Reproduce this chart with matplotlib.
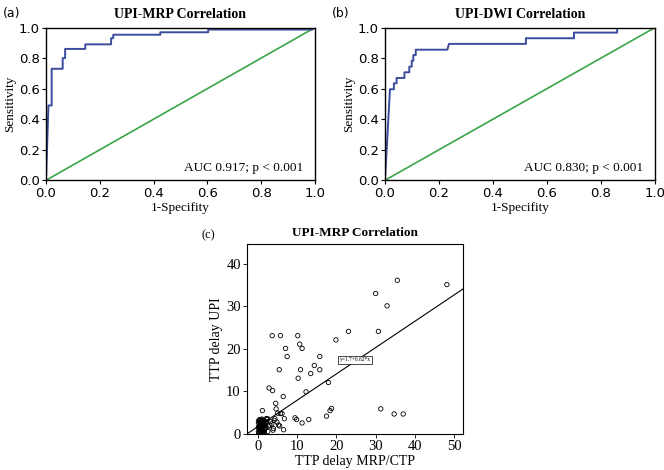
import numpy as np
import matplotlib
matplotlib.use("Agg")
import matplotlib.pyplot as plt

# ROC curves (1-specificity, sensitivity)
roc_a_fpr = [0.0, 0.009, 0.021, 0.021, 0.062, 0.062, 0.071, 0.071, 0.146, 0.146,
             0.242, 0.242, 0.25, 0.25, 0.425, 0.425, 0.603, 0.603, 0.99, 1.0]
roc_a_tpr = [0.0, 0.49, 0.49, 0.73, 0.73, 0.80, 0.80, 0.86, 0.86, 0.89,
             0.89, 0.93, 0.93, 0.953, 0.953, 0.969, 0.969, 0.987, 0.987, 1.0]

roc_b_fpr = [0.0, 0.0185, 0.033, 0.033, 0.043, 0.043, 0.072, 0.072, 0.09, 0.09,
             0.099, 0.099, 0.105, 0.105, 0.114, 0.114, 0.231, 0.237, 0.522, 0.522,
             0.70, 0.70, 0.86, 0.86, 1.0]
roc_b_tpr = [0.0, 0.596, 0.596, 0.635, 0.635, 0.67, 0.67, 0.707, 0.707, 0.744,
             0.744, 0.783, 0.783, 0.82, 0.82, 0.855, 0.855, 0.893, 0.893, 0.93,
             0.93, 0.967, 0.967, 1.0, 1.0]

auc_a = "AUC 0.917; p < 0.001"
auc_b = "AUC 0.830; p < 0.001"

# TTP delay scatter (MRP/CTP vs UPI)
ttp_mrp = [35.5, 48.1, 30.0, 32.9, 23.1, 30.7, 19.9, 3.7, 5.8, 10.2,
           10.7, 7.1, 11.3, 7.5, 15.8, 14.4, 5.5, 10.9, 15.8, 13.5,
           10.3, 18.0, 2.9, 3.8, 12.3, 6.5, 4.6, 4.7, 1.2, 18.8,
           18.4, 17.5, 31.3, 34.7, 37.0, 13.0, 11.3, 9.5, 9.9, 6.8,
           6.2, 5.8, 6.6, 5.3, 4.0, 5.1, 2.4, 3.3, 2.1, 3.1,
           4.4, 3.6, 2.7, 4.9, 5.6, 2.2, 1.9, 3.9, 4.2, 2.6,
           0.3, 0.5, 0.7, 0.9, 1.1, 1.3, 1.5, 1.7, 0.4, 0.6,
           0.8, 1.0, 1.2, 1.4, 1.6, 1.8, 2.0, 0.3, 0.5, 0.7,
           0.9, 1.1, 1.3, 1.5, 1.7, 1.9, 0.4, 0.6, 0.8, 1.0,
           1.2, 1.4, 1.6, 0.3, 0.5, 0.7, 0.9, 1.1, 1.3, 1.5,
           0.4, 0.6, 0.8, 1.0, 1.2, 2.3, 2.5, 0.2, 0.2, 0.2]
ttp_upi = [36.1, 35.1, 33.0, 30.1, 24.1, 24.1, 22.1, 23.1, 23.1, 23.1,
           21.1, 20.1, 20.1, 18.2, 18.2, 16.1, 15.1, 15.1, 15.1, 14.2,
           13.1, 12.1, 10.8, 10.2, 9.9, 8.8, 7.2, 5.9, 5.5, 6.0,
           5.5, 4.2, 5.9, 4.7, 4.7, 3.4, 2.6, 3.8, 3.4, 3.6,
           4.8, 4.8, 1.0, 2.1, 1.3, 4.9, 3.4, 2.9, 1.5, 2.1,
           3.6, 2.4, 1.8, 2.8, 1.9, 3.6, 2.6, 0.9, 3.2, 0.6,
           0.2, 0.4, 0.3, 0.5, 0.2, 0.4, 0.3, 0.5, 1.0, 1.2,
           0.9, 1.1, 1.3, 0.8, 1.0, 1.2, 1.4, 1.8, 2.0, 1.7,
           1.9, 2.1, 1.6, 1.8, 2.0, 2.2, 2.6, 2.8, 2.5, 2.7,
           2.9, 2.4, 2.6, 3.2, 3.4, 3.1, 3.3, 3.5, 3.0, 3.2,
           1.4, 1.5, 2.3, 2.4, 0.7, 2.9, 3.6, 0.6, 1.6, 2.7]
fit_intercept = 1.7
fit_slope = 0.62

blue = "#3c4c9c"
green = "#3aa547"
serif = "Liberation Serif"
sans = "DejaVu Sans"

fig = plt.figure(figsize=(6.64, 4.70), dpi=100)


def roc_panel(rect, fpr, tpr, title, auc_txt, tag, tag_x):
    ax = fig.add_axes(rect)
    ax.plot([0, 1], [0, 1], color=green, lw=1.2)
    ax.plot(fpr, tpr, color=blue, lw=1.4)
    ax.set_xlim(0, 1)
    ax.set_ylim(0, 1)
    ticks = np.linspace(0, 1, 6)
    ax.set_xticks(ticks)
    ax.set_yticks(ticks)
    ax.set_xticklabels([f"{t:.1f}" for t in ticks], family=sans, fontsize=9.5)
    ax.set_yticklabels([f"{t:.1f}" for t in ticks], family=sans, fontsize=9.5)
    ax.tick_params(direction="out", length=3, width=0.8, pad=1.5)
    for s in ax.spines.values():
        s.set_linewidth(1.0)
    ax.set_xlabel("1-Specifity", family=serif, fontsize=9.5, labelpad=2)
    ax.set_ylabel("Sensitivity", family=serif, fontsize=9.5, labelpad=2)
    ax.set_title(title, family=serif, fontweight="bold", fontsize=10, pad=7)
    ax.text(0.955, 0.04, auc_txt, transform=ax.transAxes, ha="right", va="bottom",
            family=serif, fontsize=9.5)
    fig.text(tag_x, 0.985, tag, family=sans, fontsize=9, va="top")
    return ax


roc_panel([0.0693, 0.6164, 0.405, 0.325], roc_a_fpr, roc_a_tpr,
          "UPI-MRP Correlation", auc_a, "(a)", 0.004)
roc_panel([0.5798, 0.6164, 0.4066, 0.325], roc_b_fpr, roc_b_tpr,
          "UPI-DWI Correlation", auc_b, "(b)", 0.50)

# scatter panel
ax3 = fig.add_axes([0.372, 0.0766, 0.3253, 0.404])
ax3.scatter(ttp_mrp, ttp_upi, s=10, facecolors="none", edgecolors="black", linewidths=0.6)
xl = np.array([-2.7, 52.2])
ax3.plot(xl, fit_intercept + fit_slope * xl, color="black", lw=0.8)
ax3.set_xlim(-2.7, 52.2)
ax3.set_ylim(0, 44.6)
ax3.set_xticks([0, 10, 20, 30, 40, 50])
ax3.set_yticks([0, 10, 20, 30, 40])
ax3.tick_params(direction="out", length=3, width=0.6, pad=1.5, labelsize=10.5)
for lab in ax3.get_xticklabels() + ax3.get_yticklabels():
    lab.set_family(serif)
for s in ax3.spines.values():
    s.set_linewidth(0.8)
ax3.set_xlabel("TTP delay MRP/CTP", family=serif, fontsize=10, labelpad=1)
ax3.set_ylabel("TTP delay UPI", family=serif, fontsize=10, labelpad=2)
ax3.set_title("UPI-MRP Correlation", family=serif, fontweight="bold", fontsize=9.5, pad=6)
ax3.text(24.8, 17.4, "y=1.7+0.62*x", family=serif, fontsize=4, ha="center", va="center",
         bbox=dict(boxstyle="square,pad=0.25", facecolor="white", edgecolor="black", lw=0.5))
fig.text(0.304, 0.513, "(c)", family=serif, fontsize=9, va="top")

fig.savefig("out.png", dpi=100)
